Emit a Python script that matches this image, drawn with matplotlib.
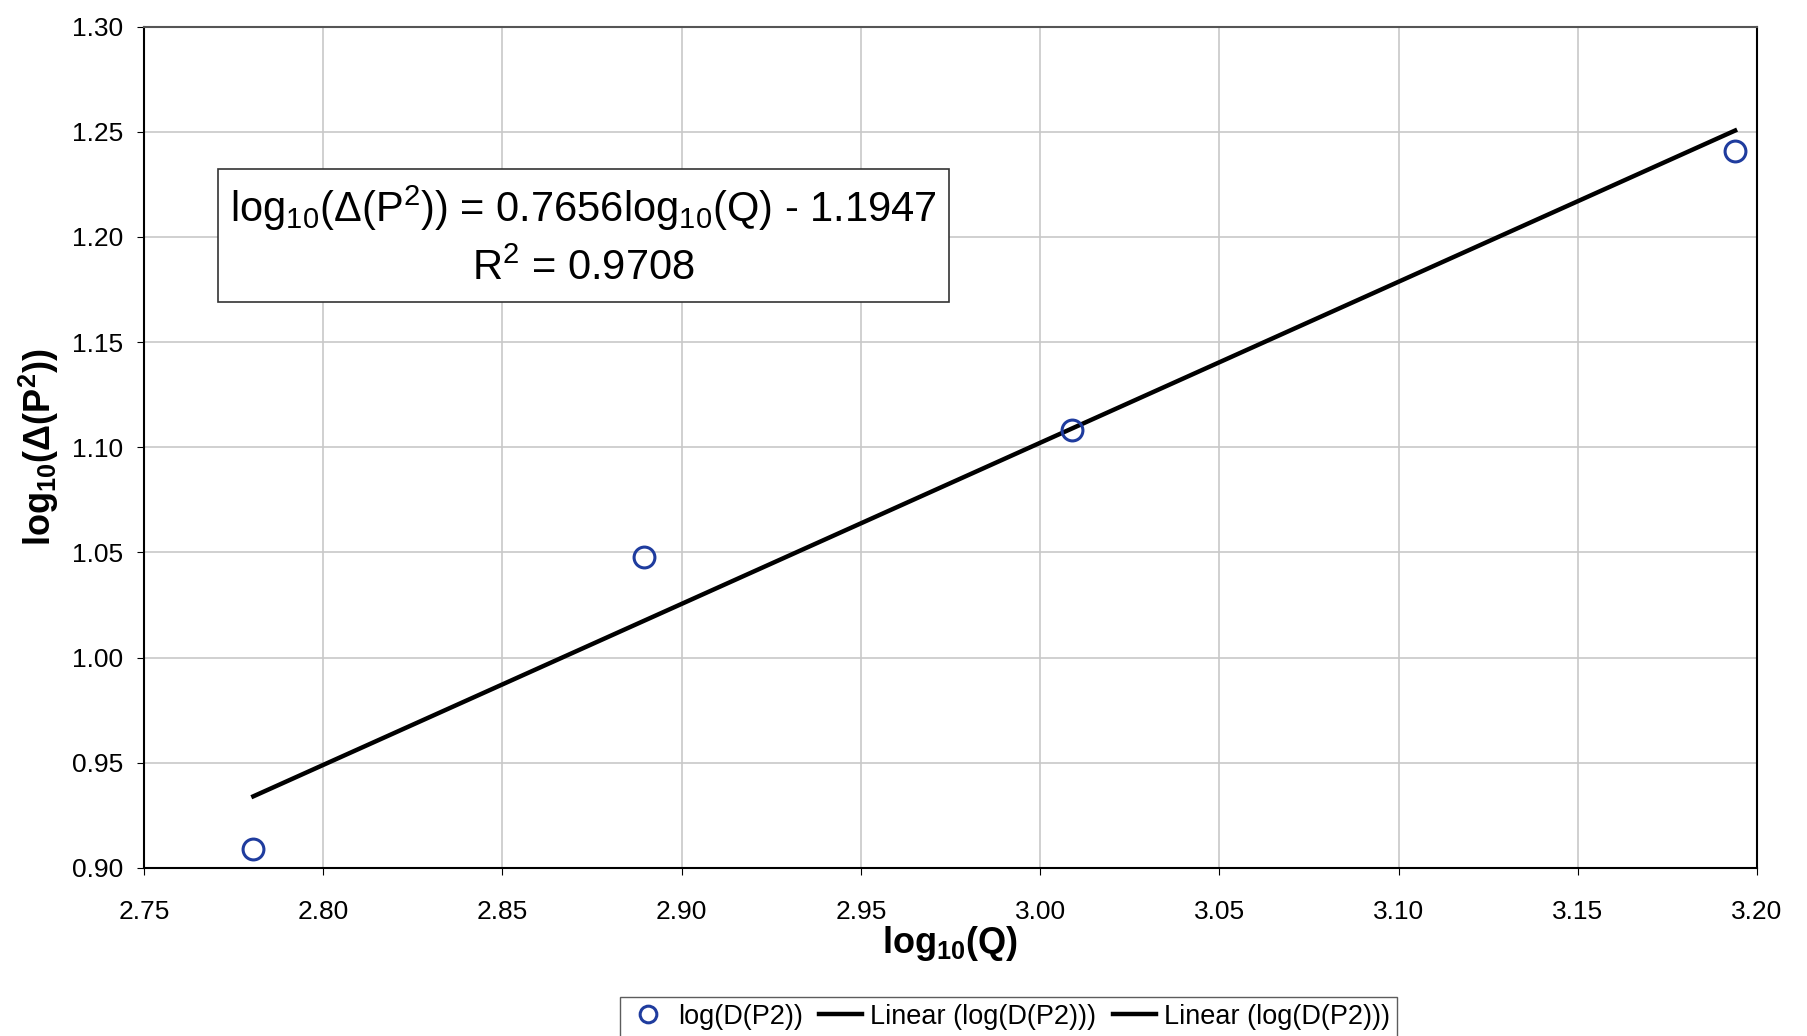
import matplotlib
matplotlib.use('Agg')
import matplotlib.pyplot as plt
from matplotlib.lines import Line2D
import numpy as np

plt.rcParams['font.family'] = ['Liberation Sans', 'DejaVu Sans']
plt.rcParams['mathtext.fontset'] = 'custom'
plt.rcParams['mathtext.rm'] = 'Liberation Sans'
plt.rcParams['mathtext.it'] = 'Liberation Sans'
plt.rcParams['mathtext.bf'] = 'Liberation Sans:bold'

# data
log_q = [2.7805, 2.8895, 3.009, 3.1939]
log_dp2 = [0.909, 1.048, 1.108, 1.2408]
slope = 0.7656
intercept = -1.1947
r2 = 0.9708

x_ticks = [2.75, 2.80, 2.85, 2.90, 2.95, 3.00, 3.05, 3.10, 3.15, 3.20]
y_ticks = [0.90, 0.95, 1.00, 1.05, 1.10, 1.15, 1.20, 1.25, 1.30]

fig = plt.figure(figsize=(18.07, 10.36), dpi=100)
ax = fig.add_axes([0.0797, 0.1622, 0.8926, 0.8122])

xfit = np.array([log_q[0], log_q[-1]])
yfit = slope * xfit + intercept

ax.plot(log_q, log_dp2, 'o', mfc='none', mec='#1f3c9e', mew=2.2, ms=15, zorder=3)
ax.plot(xfit, yfit, color='k', lw=3.2, zorder=2)

ax.set_xlim(2.75, 3.20)
ax.set_ylim(0.90, 1.30)
ax.set_xticks(x_ticks)
ax.set_yticks(y_ticks)
ax.set_xticklabels(['%.2f' % v for v in x_ticks])
ax.set_yticklabels(['%.2f' % v for v in y_ticks])
ax.tick_params(labelsize=19, direction='out', length=5)
ax.tick_params(axis='x', pad=18)
ax.tick_params(axis='y', pad=10)
ax.grid(True, color='#c8c8c8', lw=1.2)
ax.set_axisbelow(True)
for s in ax.spines.values():
    s.set_linewidth(1.5)
ax.spines['top'].set_color('#555555')

ax.set_xlabel(r'$\mathbf{log_{10}(Q)}$', fontsize=26, labelpad=0)
ax.set_ylabel(r'$\mathbf{log_{10}(\Delta(P^2))}$', fontsize=26, labelpad=8)

eq = 'log$_{10}$($\\Delta$(P$^2$)) = %.4flog$_{10}$(Q) - %.4f\nR$^2$ = %.4f' % (slope, -intercept, r2)
ax.text(0.2725, 0.7504, eq, transform=ax.transAxes, ha='center', va='center',
        fontsize=30, linespacing=1.5, multialignment='center',
        bbox=dict(boxstyle='square,pad=0.3', fc='white', ec='#333333', lw=1.2))

handles = [
    Line2D([], [], marker='o', ls='none', mfc='none', mec='#1f3c9e', mew=2.2, ms=12),
    Line2D([], [], color='k', lw=3.2),
    Line2D([], [], color='k', lw=3.2),
]
labels = ['log(D(P2))', 'Linear (log(D(P2)))', 'Linear (log(D(P2)))']
fig.legend(handles, labels, loc='upper center', bbox_to_anchor=(0.558, 0.0376),
           ncol=3, fontsize=19.5, frameon=True, fancybox=False, edgecolor='#333333',
           handlelength=1.6, handletextpad=0.3, columnspacing=0.6, borderpad=0.25,
           borderaxespad=0)

fig.savefig('out.png', dpi=100)
